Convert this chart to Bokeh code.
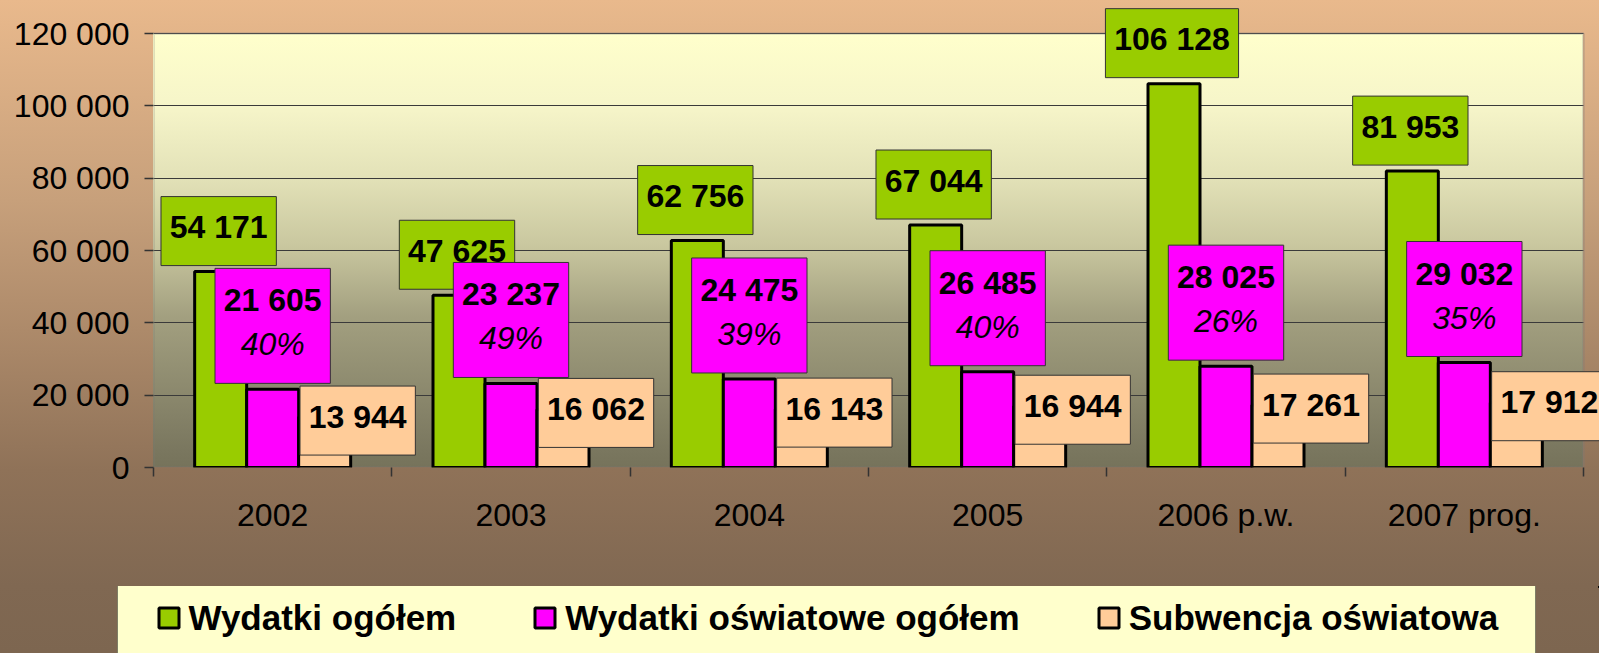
from bokeh.plotting import figure
from bokeh.layouts import column
from bokeh.models import Range1d, FixedTicker, Legend, LegendItem, ColumnDataSource, BoxAnnotation
from bokeh.transform import dodge
from bokeh.core.properties import value
from bokeh.embed import file_html
from bokeh.resources import INLINE

# ---------------- data ----------------
categories = ["2002", "2003", "2004", "2005", "2006 p.w.", "2007 prog."]
wydatki_ogolem = [54171, 47625, 62756, 67044, 106128, 81953]
wydatki_oswiatowe = [21605, 23237, 24475, 26485, 28025, 29032]
subwencja = [13944, 16062, 16143, 16944, 17261, 17912]
series_names = ["Wydatki ogółem", "Wydatki oświatowe ogółem", "Subwencja oświatowa"]
y_ticks = [0, 20000, 40000, 60000, 80000, 100000, 120000]
y_tick_labels = ["0", "20 000", "40 000", "60 000", "80 000", "100 000", "120 000"]

# ---------------- layout / style ----------------
FONT = "Liberation Sans"
W, H1, H2 = 1599, 586, 67
PL, PT, PW, PH = 153, 33, 1430, 434      # plot area (pixels)
FT = 5                                   # frame top
FH = PT + PH - FT                        # frame height
FW = W - PL                              # frame width (to right edge)
YMAX = 120000
N = len(categories)
UPP_Y = YMAX / PH
UPP_X = N / PW
BAR_W = 52 * UPP_X
C_GREEN, C_MAG, C_PEACH = "#99cc00", "#ff00ff", "#ffcc99"


def fmt(v):
    return f"{v:,}".replace(",", " ")


def text_w(s, size=32):
    return sum(0.556 if ch.isdigit() else 0.278 for ch in s) * size


xs = [i + 0.5 for i in range(N)]
src = ColumnDataSource(dict(x=xs, g=wydatki_ogolem, m=wydatki_oswiatowe, s=subwencja))

p = figure(frame_width=FW, frame_height=FH, title=None,
           min_border_left=PL, min_border_right=0, min_border_top=FT,
           min_border_bottom=H1 - PT - PH,
           x_range=Range1d(0, N + (FW - PW) * UPP_X),
           y_range=Range1d(0, YMAX + (PT - FT) * UPP_Y),
           output_backend="svg", toolbar_location=None,
           border_fill_color=None, background_fill_color=None,
           outline_line_color=None)

page_grad = "linear-gradient(180deg, #e9b98c 0px, #c7a07b 200px, #ad8a6a 330px, #8f7258 470px, #806852 586px)"
plot_grad = ("linear-gradient(180deg, #ffffcc 0%, #f6f5c9 17%, #e3e2b8 33%, #c9c79f 49%, "
             "#a3a080 65%, #7a775f 96%, #76735b 100%)")
p.styles = {"background": f"{plot_grad} {PL}px {PT}px / {PW}px {PH}px no-repeat, {page_grad}"}

# plot-area border
p.add_layout(BoxAnnotation(left=0, right=N, bottom=0, top=YMAX, level="underlay",
                           fill_alpha=0, line_color="#7a7a7a", line_width=2.5))

# grid / axes
p.xgrid.visible = False
p.ygrid.ticker = FixedTicker(ticks=y_ticks)
p.ygrid.grid_line_color = "#3a3a3a"
p.ygrid.grid_line_width = 1
try:
    p.ygrid.cross_bounds = (0, N)
except Exception:
    pass

for ax in (p.xaxis[0], p.yaxis[0]):
    ax.major_label_text_font = FONT
    ax.major_label_text_font_size = "32px"
    ax.major_label_text_color = "black"
    ax.axis_line_color = None

p.xaxis.ticker = FixedTicker(ticks=xs, minor_ticks=list(range(N + 1)))
p.xaxis.major_label_overrides = {x: c for x, c in zip(xs, categories)}
p.xaxis.major_tick_out = 0
p.xaxis.major_tick_in = 0
p.xaxis.minor_tick_out = 9
p.xaxis.minor_tick_in = 0
p.xaxis.minor_tick_line_color = "#333333"
p.xaxis.minor_tick_line_width = 1.5
p.xaxis.major_label_standoff = 20

p.yaxis.ticker = FixedTicker(ticks=y_ticks)
p.yaxis.major_label_overrides = dict(zip(y_ticks, y_tick_labels))
p.yaxis.major_tick_out = 9
p.yaxis.major_tick_in = 0
p.yaxis.minor_tick_out = 0
p.yaxis.minor_tick_in = 0
p.yaxis.major_tick_line_color = "#333333"
p.yaxis.major_tick_line_width = 1.5
p.yaxis.major_label_standoff = 15

# bars
BAR = dict(line_color="black", line_width=3)
p.vbar(x=dodge("x", -BAR_W, range=p.x_range), top="g", width=BAR_W, source=src,
       fill_color=C_GREEN, **BAR)
p.vbar(x="x", top="m", width=BAR_W, source=src, fill_color=C_MAG, **BAR)
p.vbar(x=dodge("x", BAR_W, range=p.x_range), top="s", width=BAR_W, source=src,
       fill_color=C_PEACH, **BAR)

# ---------------- data labels ----------------
TXT = dict(text_font=value(FONT), text_font_size="32px", text_align="center",
           text_baseline="middle", text_color="black")

g_txt = [fmt(v) for v in wydatki_ogolem]
g_src = ColumnDataSource(dict(
    x=[x - BAR_W - 2 * UPP_X for x in xs],
    y=[v + 40.5 * UPP_Y for v in wydatki_ogolem],
    ty=[v + 44.5 * UPP_Y for v in wydatki_ogolem],
    w=[text_w(t) + 17.5 for t in g_txt], t=g_txt))
p.rect(x="x", y="y", width="w", height=69, width_units="screen", height_units="screen",
       source=g_src, fill_color=C_GREEN, line_color="#333333", line_width=1)
p.text(x="x", y="ty", text="t", source=g_src, text_font_style="bold", **TXT)

m_txt = [fmt(v) for v in wydatki_oswiatowe]
m_pct = [f"{round(100 * b / a)}%" for a, b in zip(wydatki_ogolem, wydatki_oswiatowe)]
m_src = ColumnDataSource(dict(
    x=xs,
    y=[v + 63.5 * UPP_Y for v in wydatki_oswiatowe],
    ty=[v + 89.0 * UPP_Y for v in wydatki_oswiatowe],
    py=[v + 45.0 * UPP_Y for v in wydatki_oswiatowe],
    w=[text_w(t) + 17.5 for t in m_txt], t=m_txt, pct=m_pct))
p.rect(x="x", y="y", width="w", height=115, width_units="screen", height_units="screen",
       source=m_src, fill_color=C_MAG, line_color="#333333", line_width=1)
p.text(x="x", y="ty", text="t", source=m_src, text_font_style="bold", **TXT)
p.text(x="x", y="py", text="pct", source=m_src, text_font_style="italic", **TXT)

s_txt = [fmt(v) for v in subwencja]
s_src = ColumnDataSource(dict(
    x=[x + BAR_W + 33 * UPP_X for x in xs],
    y=[v - 3.5 * UPP_Y for v in subwencja],
    ty=[v + 0.5 * UPP_Y for v in subwencja],
    w=[text_w(t) + 17.5 for t in s_txt], t=s_txt))
p.rect(x="x", y="y", width="w", height=69, width_units="screen", height_units="screen",
       source=s_src, fill_color=C_PEACH, line_color="#333333", line_width=1)
p.text(x="x", y="ty", text="t", source=s_src, text_font_style="bold", **TXT)

# ---------------- legend (separate strip below) ----------------
q = figure(width=W, height=H2, min_border=0, title=None,
           x_range=Range1d(-2, -1), y_range=Range1d(-2, -1),
           x_axis_location=None, y_axis_location=None,
           output_backend="svg", toolbar_location=None,
           border_fill_color=None, background_fill_color=None, outline_line_color=None)
q.grid.visible = False
q.styles = {"background": "linear-gradient(180deg, #806852 0%, #7d6650 100%)"}
for fig in (p, q):
    try:
        fig.frame_align = False
    except Exception:
        pass

# legend keys: same series, drawn outside the strip's visible range
key_renderers = [q.vbar(x="x", top=col, width=BAR_W, source=src, fill_color=c, **BAR)
                 for col, c in (("g", C_GREEN), ("m", C_MAG), ("s", C_PEACH))]
box_key = q.rect(x="x", y="g", width=0, height=0, source=src, fill_alpha=0, line_alpha=0)

legend_box = Legend(items=[LegendItem(label=value(" "), renderers=[box_key])],
                    location=(117, H2 - 80), orientation="horizontal",
                    padding=0, margin=0, spacing=0,
                    glyph_width=1417, glyph_height=80,
                    label_width=0, label_height=0, label_standoff=0,
                    label_text_font_size="1px",
                    border_line_color="black", border_line_width=1.5,
                    background_fill_color="#ffffcc", background_fill_alpha=1)
q.add_layout(legend_box, "center")

legend = Legend(items=[LegendItem(label=value(n), renderers=[r])
                       for n, r in zip(series_names, key_renderers)],
                location=(155.5, 15.5), orientation="horizontal",
                padding=0, margin=0, spacing=76,
                glyph_width=25, glyph_height=25, label_standoff=8,
                label_width=0, label_height=0,
                label_text_font=FONT, label_text_font_style="bold",
                label_text_font_size="35px", label_text_color="black",
                border_line_color=None, background_fill_alpha=0)
q.add_layout(legend, "center")

layout = column(p, q, spacing=0)
open("out.html", "w").write(file_html(layout, INLINE))
